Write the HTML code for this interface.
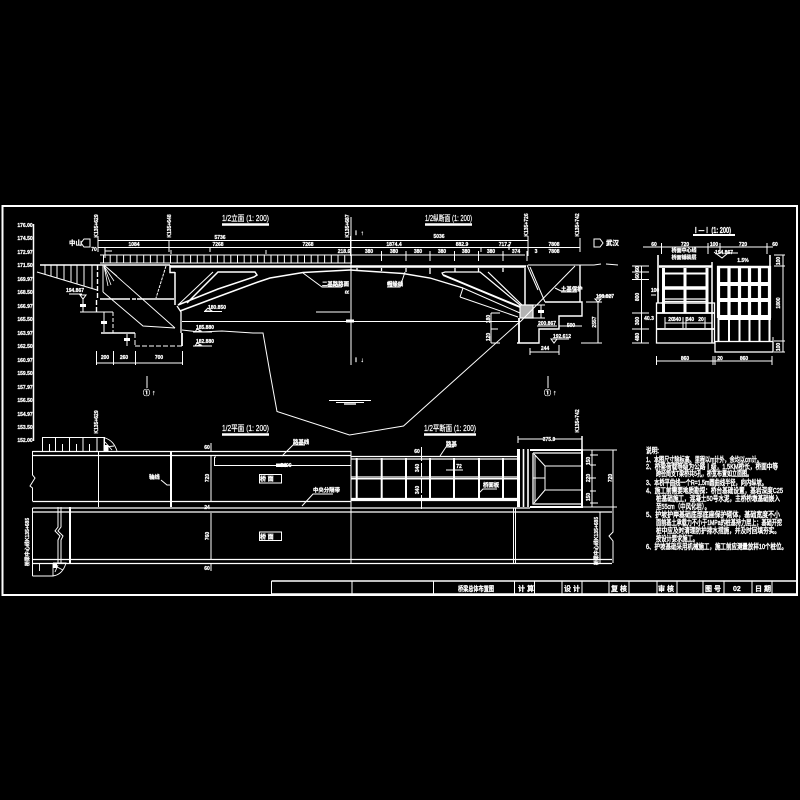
<!DOCTYPE html>
<html><head><meta charset="utf-8"><title>桥梁总体布置图</title>
<style>
html,body{margin:0;padding:0;background:#000;width:800px;height:800px;overflow:hidden}
svg{display:block}
text{font-family:"Liberation Sans","Noto Sans CJK SC",sans-serif;fill:#fff;stroke:#fff;stroke-width:.25}
.s{font-size:5px;text-anchor:middle;font-weight:bold}
.n{font-size:7.2px;stroke-width:.45}
.t{font-size:8px;stroke-width:.2}
</style></head><body>
<svg width="800" height="800" viewBox="0 0 800 800" xmlns="http://www.w3.org/2000/svg">
<rect width="800" height="800" fill="#000"/>
<g fill="none" stroke="#fff" stroke-width="1">
<!-- frame -->
<rect x="2.5" y="206" width="794.5" height="389" stroke-width="2"/>
<path d="M33.5 224V441" stroke-width="1.5"/>
<!-- title block -->
<path d="M271.5 581H797M271.5 594H797" stroke-width="1.5"/>
<path d="M271.5 581V595M352 581V594M433.5 581V594M514.5 581V594M534.5 581V594M562 581V594M582 581V594M609 581V594M629 581V594M657 581V594M677 581V594M703 581V594M724 581V594M752 581V594M772 581V594"/>

<!-- dims top -->
<path d="M98 240.5H528M98 247.5H580M98 236V252M169 240V252M350.5 236V256M481 247V252M528 236V256M580 238V252M509 244V250"/>
<path d="M171 250V254M105 248V258M105 251H112M266 250V254M210 247V252" />
<!-- rail -->
<path d="M100 255H525M100 263H352"/>
<path d="M103 259H352" stroke-width="8" stroke-dasharray="1 5.7" />
<path d="M381.5 251V261M406 251V261M430 251V261M454.5 251V261M478.5 251V261M503 251V261M527 251V261"/>
<!-- deck -->
<path d="M40 265H170M170 265V272.5H175M175 272V305M98 265H104"  stroke-width="1.5"/>
<path d="M170 266.5H526" stroke-width="2.6"/>
<path d="M528 265H594L601 264M606 264L618 265" stroke-width="1"/>
<path d="M357 268V271M381.5 268V271M406 268V272M430 268V274M455 268V272M478.5 268V272M503 268V272"  stroke-width="1.3"/>
<!-- left ground and hatch -->
<path d="M37 272L97 290" />
<path d="M45 265V274M51 265V276M57 265V278M64 265V280M71 265V282M77 265V284M84 265V286M92 265V288"/>
<path d="M97.5 265V300M96.5 300V312" stroke-width="1.4" stroke-dasharray="5 2"/>
<path d="M103 265V292"/>
<path d="M100 299H126" stroke-width="1.4"/>
<path d="M126 299H137" stroke-width="1.4" stroke-dasharray="4 2"/>
<path d="M137 299H174" stroke-width="1.4"/>
<path d="M104 265L175 328" stroke-width=".9"/>
<path d="M103 292L143 326L175 328"/>
<path d="M104 266L111 285M104 266L114 281M105 266L117 276M104 266L108 286" stroke-width=".8"/>
<path d="M166 266L156 298" stroke-dasharray="3 1" />
<path d="M182 330L200 332L222 331L253 333L263 333L270 373L277 411.5L349.5 435L403.5 426L520 321.5"/>
<path d="M182 321.5H520"/>
<path d="M80 312H113"/>
<path d="M113 312V333" stroke-dasharray="4 2"/>
<path d="M101 333H135" stroke-width="1.5"/>
<path d="M135 333V346M135 346H183" stroke-dasharray="5 2"/>
<path d="M177 306L181 312V333" stroke-width="1.3"/>
<path d="M182 333V346" stroke-width="1.8"/>
<path d="M83 298V312M104 312V332" />
<path d="M69 294H82M80 295L83 299L86 295Z"/>
<rect x="80" y="304" width="6" height="3" fill="#fff" stroke="none"/>
<rect x="101" y="321" width="6" height="3" fill="#fff" stroke="none"/>
<rect x="124" y="338" width="6" height="3" fill="#fff" stroke="none"/>
<path d="M127 334V346" />
<!-- bottom dims left -->
<path d="M96.5 363H183M96.5 351V365M113.5 351V365M135.5 351V365M182.5 351V365"/>
<path d="M147 376V388M351 217V365" />
<!-- left arch -->
<path d="M178 305L218 289L254 277L257 275L255 272H218L187 303" stroke-width="1.5"/>
<path d="M180 311L220 296L258 282L270 278L303 272.5L350 270" stroke-width="1.5"/>
<path d="M178 305L213 272"/>
<path d="M350 270L403 273.5L430 278L463 288" stroke-width="1.4"/>
<path d="M463 288L520 313" stroke-width="1"/>
<path d="M460 297L463 288M460 297L518 317"/>
<path d="M443 275L520 307" stroke-width="2"/>
<path d="M443 275L442 273L445 272H480L520 305M488 272L522 305" stroke-width="1.2"/>
<path d="M303 273L322 287H342M405 272L400 287H387M316 312H350"/>
<rect x="346" y="319.5" width="8" height="3" fill="#fff" stroke="none"/>
<!-- right abutment -->
<path d="M525 268V305" stroke-width="1.5"/>
<rect x="520" y="305" width="13" height="13" fill="#fff" fill-opacity=".7" stroke-width="1.2"/>
<path d="M533 305H545M533 318H545M541 305V318" />
<rect x="538" y="310" width="6" height="3" fill="#fff" stroke="none"/>
<path d="M519 318V343" stroke-width="1.8"/>
<path d="M517 343H539V329H559V316H582V302H545M580 265V302" stroke-width="1.4"/>
<path d="M530 267L545 302M575 266L520 322M527 265L538 290"/>
<path d="M491 313V343M491 313H500M491 329H498M491 343H500" />
<path d="M559 326H582M530 352H559M559 345V355M530 348V355"/>
<path d="M537 326H557M561 292H577M555 288L561 291"/>
<path d="M586 302H602M598 302V343M581 343H602M598 296H612M595 299L598 302L601 299Z"/>
<path d="M553 339H569M551 339L554 343L557 339Z"/>
<path d="M204 311.5H222M208 308L205 311L212 311Z M193 332H212M197 329L195 332L201 331ZM193 346H212M197 343L195 346L201 345Z" />
<path d="M548 376V388"/>
<!-- river level -->
<path d="M329 400.5H371M336 402.5H364" stroke-width="1"/>
<path d="M344 404H356" stroke-width="1.4"/>
<!-- section A-A -->
<path d="M650 247H773M661.500 243V254M708 243V254M720 243V254M767 243V254M643 247H650"/>
<path d="M693 235H735" stroke-width="2"/>
<path d="M658 255V303" stroke-width="1.6"/>
<path d="M770 255V266" stroke-width="1.6"/>
<path d="M659 266.500H712" stroke-width="2.600"/>
<path d="M661 303H712" stroke-width="1.3"/>
<path d="M663.500 268V313M685 268V313M707 268V313" stroke-width="3"/>
<path d="M665 273.500H706" stroke-width="2"/>
<path d="M664 288H708" stroke-width="3.600"/>
<path d="M664 299H708M664 301.500H708" stroke-width="1.200"/>
<rect x="656.500" y="303" width="58" height="40" stroke-width="1.3"/>
<path d="M656.500 313H714M656.500 329H714" stroke-width="1.800"/>
<path d="M665 323H712M665 317V328M683 317V328M686 317V328M705 317V328" />
<path d="M712 262V343" stroke-width="1.5"/>
<path d="M718.500 266V318M729 266V318M739.500 266V318M749.500 266V318M759.500 266V318M769.500 266V318" stroke-width="3.200"/>
<path d="M718.500 318V341M729 318V341M739.500 318V341M749.500 318V341M759.500 318V341M769.500 318V341" stroke-width="2"/>
<path d="M717 267H771" stroke-width="2.600"/>
<path d="M718 284H771M718 300H771" stroke-width="4"/>
<path d="M718 317.500H771" stroke-width="5"/>
<rect x="715" y="341.500" width="58" height="10.500" stroke-width="1.300"/>
<path d="M773 337V341"/>
<path d="M641.500 266V343M632 266H649M632 272H649M632 279.500H649M632 313H649M632 329H649M632 343H649"/>
<path d="M783 255V352M774 255H785M774 266H785M774 341H785M774 352H785"/>
<path d="M656 361H772M656.500 356V365M713 356V365M715 356V365M772 356V365"/>
<path d="M651 295H656M714 252L722 258L728 253H738"/>
<!-- plan: long lines -->
<path d="M32.500 451.500H351M32.500 455.500H351" stroke-width="1.300"/>
<path d="M32.500 501.500H351M32.500 508H530M32.500 512H612M32.500 559.500H612M32.500 563.500H612" stroke-width="1.300"/>
<path d="M32.500 451V475L35 478L30 486L32.500 488V501M32.500 508V576"/>
<path d="M98.500 451V507M351 451V563" />
<path d="M171 451V507" stroke-width="2"/>
<path d="M58 507V527L55 531L60 536L58 540V563M61 507V527L58 531L63 536L61 540V563" />
<path d="M70 507V563" stroke-width="2"/>
<path d="M42.500 451V437.500H104.500V451M55.500 437.500V451M69.500 437.500V451M83 437.500V451M97 437.500V451M49.500 444V451M62.500 444V451M76.500 444V451M89.500 444V451"/>
<path d="M104 437.500C112 440 115 445 117 451M104 437.500V451M105 442L112 450M105 447L114 446" stroke-width=".9"/>
<rect x="103.500" y="445" width="5" height="6" fill="#fff" stroke="none"/>
<path d="M32.500 576H53V563M39.500 563V571M53 563H66C64 570 60 575 53 576M55 566L63 570M55 572L58 565" stroke-width=".9"/>
<rect x="53" y="563" width="4" height="5" fill="#fff" stroke="none"/>
<path d="M211 443V451M211 456V501M211 513V559M211 564V571M214.500 457V465.500H351M214.500 457H216" />
<path d="M161 480L167 485H171"/>
<rect x="259.500" y="474.500" width="22" height="8.500"/>
<rect x="259.500" y="532" width="22" height="8.500"/>
<!-- plan: grid -->
<path d="M351 456.500H520M351 459H520M351 477H520" stroke-width="1.300"/>
<path d="M351 478.700H520" stroke-width="1.500"/>
<path d="M351 499.500H520" stroke-width="3.200"/>
<path d="M356.700 458V498M381.700 458V498M406 458V498M430 458V498M454 458V498M479 458V498M503 458V498" stroke-width="2"/>
<path d="M518.500 449V507" stroke-width="3"/>
<path d="M523.500 449V507M528 449V507" stroke-width="1.600"/>
<path d="M421.500 447V510" stroke-dasharray="14 2"/>
<path d="M446 470H463M454 462V476"/>
<path d="M282 456L293 445H305M302 506L313 494H333M440 456L446 447H454M479 493L483 489H497"/>
<rect x="276" y="463.500" width="11" height="3.500" fill="#fff" stroke="none"/>
<path d="M513.500 508V563M515.500 508V563" />
<!-- plan: right box -->
<path d="M530 450H582V507H530" stroke-width="2"/>
<path d="M533 453H582V504H533V453" stroke-width="1.300"/>
<path d="M535 455V502" />
<path d="M545 466H582M545 490H582M545 466V490M534 454L545 466M534 503L545 490" />
<path d="M533 478H545" />
<path d="M582 436V508" stroke-width="1.500"/>
<path d="M518 439H545M553 439H582M518 436V443" />
<path d="M582 450H617M582 507H617M613 450V532L609 536L613 541V563M600 512V563M592 450V507M590 455H598M590 465H596M590 478H596M590 491H596M590 503H598" />
<path d="M222 224.500H269M425 224.500H472M222 434.500H269M424 434.500H476" stroke-width="2.500"/>
<!-- arrows -->
<path d="M90 239H84L81 243L84 247H90Z" stroke-width="1"/>
<path d="M594 239H600L603 243L600 247H594Z" stroke-width="1"/>
</g>

<!-- elevation labels -->
<g class="s">
<text class="s" x="25" y="227">176.00</text><text class="s" x="25" y="240">174.50</text><text class="s" x="25" y="254">172.97</text><text class="s" x="25" y="267">171.50</text><text class="s" x="25" y="281">169.97</text><text class="s" x="25" y="294">168.50</text><text class="s" x="25" y="308">166.97</text><text class="s" x="25" y="321">165.50</text><text class="s" x="25" y="335">163.97</text><text class="s" x="25" y="348">162.50</text><text class="s" x="25" y="362">160.97</text><text class="s" x="25" y="375">159.50</text><text class="s" x="25" y="389">157.97</text><text class="s" x="25" y="402">156.50</text><text class="s" x="25" y="416">154.97</text><text class="s" x="25" y="429">153.50</text><text class="s" x="25" y="442">152.00</text>
<text class="s" x="220" y="239">5736</text><text class="s" x="134" y="246">1084</text><text class="s" x="218" y="246">7268</text><text class="s" x="94" y="251">70</text>
<text class="s" x="439" y="238">5036</text><text class="s" x="308" y="246">7268</text><text class="s" x="394" y="246">1874.4</text><text class="s" x="462" y="246">882.9</text><text class="s" x="505" y="246">717.7</text><text class="s" x="554" y="246">7808</text><text class="s" x="554" y="253">7808</text>
<text class="s" x="344" y="253">218.6</text><text class="s" x="369" y="253">380</text><text class="s" x="394" y="253">380</text><text class="s" x="418" y="253">380</text><text class="s" x="442" y="253">380</text><text class="s" x="466" y="253">380</text><text class="s" x="491" y="253">380</text><text class="s" x="516" y="253">374</text><text class="s" x="536" y="253">3</text>
<text class="s" x="105" y="359">200</text><text class="s" x="124" y="359">260</text><text class="s" x="159" y="359">700</text>
<text class="s" x="75" y="292">194.867</text><text class="s" x="217" y="309">180.850</text><text class="s" x="205" y="329">185.880</text><text class="s" x="205" y="343">182.880</text>
<text class="s" x="605" y="298">198.827</text><text class="s" x="562" y="338">192.612</text><text class="s" x="545" y="350">244</text><text class="s" x="571" y="327">500</text><text class="s" x="547" y="325">200.867</text>
<text class="s" x="685" y="246">720</text><text class="s" x="714" y="246">100</text><text class="s" x="743" y="246">720</text><text class="s" x="654" y="246">60</text><text class="s" x="775" y="246">60</text>
<text class="s" x="685" y="360">860</text><text class="s" x="720" y="360">20</text><text class="s" x="744" y="360">860</text>
<text class="s" x="671" y="321">20</text><text class="s" x="677" y="321">340</text><text class="s" x="690" y="321">340</text><text class="s" x="701" y="321">20</text><text class="s" x="649" y="320">40.3</text><text class="s" x="724" y="254">194.867</text><text class="s" x="684" y="252">桥面中心线</text>
<text class="s" x="684" y="259">桥面铺装层</text><text class="s" x="743" y="262">1.5%</text><text class="s" x="655" y="292">100</text>
<text class="s" x="549" y="441">375.0</text>
<text class="s" x="207" y="449">60</text><text class="s" x="207" y="509">24</text><text class="s" x="207" y="570">60</text>
<text class="s" x="286" y="467">3400</text>
<text class="s" x="417" y="453">60</text><text class="s" x="459" y="468">72</text>
</g>
<g font-size="5.400" font-weight="bold">
<text x="149" y="479">轴线</text><text x="293" y="444">路基线</text><text x="313" y="492">中央分隔带</text><text x="446" y="446">路基</text><text x="483" y="487">桥面板</text>
<text x="322" y="286">二基路路面</text><text x="387" y="286">帽缘线</text><text x="561" y="291">土基保护</text>
<text x="260" y="481" font-size="6">桥 面</text><text x="260" y="539" font-size="6">桥 面</text>
<text x="69" y="245" font-size="6.500">中山</text><text x="606" y="245" font-size="6.500">武汉</text>
<text x="143" y="395" font-size="7">① ↑</text><text x="544" y="395" font-size="7">① ↑</text>
<text x="353" y="235" font-size="6">Ⅰ ↑</text><text x="353" y="362" font-size="6">Ⅰ ↓</text>
</g>
<!-- vertical texts -->
<g font-size="5" font-weight="bold" text-anchor="middle">
<text transform="translate(98 226) rotate(-90)">K135+629</text>
<text transform="translate(171 226) rotate(-90)">K135+648</text>
<text transform="translate(349 226) rotate(-90)">K135+687</text>
<text transform="translate(528 225) rotate(-90)">K135+726</text>
<text transform="translate(579 225) rotate(-90)">K135+742</text>
<text transform="translate(98 422) rotate(-90)">K135+629</text>
<text transform="translate(579 421) rotate(-90)">K135+742</text>
<text transform="translate(29 542) rotate(-90)">桥梁中心线K135+685</text>
<text transform="translate(598 541) rotate(-90)">桥梁中心线K135+685</text>
<text transform="translate(349 292) rotate(-90)">R</text>
<text transform="translate(596 322) rotate(-90)">2557</text>
<text transform="translate(490 319) rotate(-90)">180</text>
<text transform="translate(490 337) rotate(-90)">120</text>
<text transform="translate(639 269) rotate(-90)">60</text>
<text transform="translate(639 276) rotate(-90)">60</text>
<text transform="translate(639 297) rotate(-90)">800</text>
<text transform="translate(639 321) rotate(-90)">300</text>
<text transform="translate(639 337) rotate(-90)">480</text>
<text transform="translate(780 303) rotate(-90)">1800</text>
<text transform="translate(780 261) rotate(-90)">100</text>
<text transform="translate(780 347) rotate(-90)">100</text>
<text transform="translate(209 478) rotate(-90)">720</text>
<text transform="translate(209 536) rotate(-90)">760</text>
<text transform="translate(419 468) rotate(-90)">340</text>
<text transform="translate(419 490) rotate(-90)">340</text>
<text transform="translate(590 461) rotate(-90)">150</text>
<text transform="translate(590 478) rotate(-90)">220</text>
<text transform="translate(590 497) rotate(-90)">150</text>
<text transform="translate(612 478) rotate(-90)">720</text>
</g>
<!-- titles -->
<g class="t">
<text class="t" x="222" y="221" textLength="47" lengthAdjust="spacingAndGlyphs">1/2立面 (1: 200)</text>
<text class="t" x="425" y="221" textLength="47" lengthAdjust="spacingAndGlyphs">1/2纵断面 (1: 200)</text>
<text class="t" x="222" y="431" textLength="47" lengthAdjust="spacingAndGlyphs">1/2平面 (1: 200)</text>
<text class="t" x="424" y="431" textLength="52" lengthAdjust="spacingAndGlyphs">1/2平断面 (1: 200)</text>
<text x="693" y="233" font-size="8" font-weight="bold" textLength="38" lengthAdjust="spacingAndGlyphs">Ⅰ—Ⅰ (1: 200)</text>
</g>
<!-- title block text -->
<g font-size="7" font-weight="bold">
<text x="458" y="591" textLength="36" lengthAdjust="spacingAndGlyphs">桥梁总体布置图</text>
<text x="518" y="591">计 算</text><text x="564" y="591">设 计</text><text x="611" y="591">复 核</text><text x="658" y="591">审 核</text><text x="705" y="591">图 号</text><text x="733" y="591">02</text><text x="755" y="591">日 期</text>
</g>
<!-- notes -->
<g class="n">
<text class="n" x="646" y="453" textLength="13" lengthAdjust="spacingAndGlyphs">说明:</text>
<text class="n" x="646" y="462" textLength="116" lengthAdjust="spacingAndGlyphs">1、本图尺寸除标高、里程以m计外，余均以cm计。</text>
<text class="n" x="646" y="469" textLength="132" lengthAdjust="spacingAndGlyphs">2、桥梁荷载等级为公路Ⅰ级，1.5KM桥长，桥面中等</text>
<text class="n" x="656" y="476" textLength="96" lengthAdjust="spacingAndGlyphs">跨径简支T梁桥共5孔，桥宽布置如立面图。</text>
<text class="n" x="646" y="485" textLength="121" lengthAdjust="spacingAndGlyphs">3、本桥平曲线一个R=1.5m圆曲线半径，向内纵坡。</text>
<text class="n" x="646" y="493" textLength="137" lengthAdjust="spacingAndGlyphs">4、施工前需要地质勘探：桥台基础设置，基岩深度C25</text>
<text class="n" x="656" y="501" textLength="124" lengthAdjust="spacingAndGlyphs">桩基础施工，混凝土50号水泥，主桥桥墩基础嵌入</text>
<text class="n" x="656" y="509" textLength="54" lengthAdjust="spacingAndGlyphs">至55cm（中风化岩）。</text>
<text class="n" x="646" y="517" textLength="134" lengthAdjust="spacingAndGlyphs">5、护坡护岸基础底部底座保护砌体，基础宽度不小</text>
<text class="n" x="656" y="525" textLength="126" lengthAdjust="spacingAndGlyphs">面前基土承载力不小于1MPa的桩基持力层上；基础开挖</text>
<text class="n" x="656" y="533" textLength="124" lengthAdjust="spacingAndGlyphs">桩中应及时清理防护排水措施，并及时回填夯实。</text>
<text class="n" x="656" y="541" textLength="42" lengthAdjust="spacingAndGlyphs">按设计要求施工。</text>
<text class="n" x="646" y="549" textLength="141" lengthAdjust="spacingAndGlyphs">6、护坡基础采用机械施工，施工前应测量放样10个桩位。</text>
</g>
</svg>
</body></html>
